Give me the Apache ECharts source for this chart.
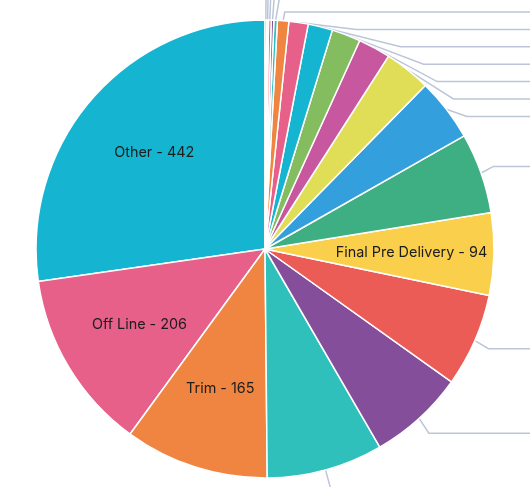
<!DOCTYPE html>
<html>
<head>
<meta charset="utf-8">
<script src="https://cdn.jsdelivr.net/npm/echarts@6/dist/echarts.min.js"></script>
<style>
html, body { margin: 0; padding: 0; width: 530px; height: 487px; overflow: hidden; background: #fff; }
/* the chart is larger than the window, the outer labels fall outside the picture */
#chart { position: absolute; left: 0; top: -300px; width: 1100px; height: 1100px; }
</style>
</head>
<body>
<div id="chart"></div>
<script>
// stations, largest first (drawn counter-clockwise from 12 o'clock)
var stages = ['Other', 'Off Line', 'Trim', 'Chassis', 'Paint', 'Body In White',
    'Final Pre Delivery', 'Final Assembly', 'Electrical', 'Water Test', 'Road Test',
    'Audit', 'Glass', 'Sealer', 'Doors', 'Engine', 'Wheel Alignment', 'Rework',
    'Underbody', 'Shipping'];
var counts = [442, 206, 165, 133, 110, 107, 94, 92, 72, 53, 37, 33, 28, 22, 13, 4, 3, 3, 2, 2];
// these get their label inside the slice
var insideStages = ['Other', 'Off Line', 'Trim', 'Final Pre Delivery'];

var palette = ['#15b5d1', '#e7608a', '#ef8540', '#2fc0bb', '#854e9b', '#ea5c55',
    '#f9cf4b', '#3eae83', '#349fdd', '#e0de56', '#c758a0', '#83bd5f'];

var myChart = echarts.init(document.getElementById('chart'));

var pieData = stages.map(function(name, i) {
    var inside = insideStages.indexOf(name) >= 0;
    var item = {
        name: name,
        value: counts[i],
        label: { show: !inside },
        labelLine: { show: !inside }
    };
    // the very thin slices get a long straight leader, their labels sit above the stack
    if (counts[i] < 10) {
        item.label.alignTo = 'edge';
        item.labelLine.length = 95;
    }
    return item;
});

var labelData = stages.map(function(name, i) {
    return {
        name: name,
        value: counts[i],
        label: { show: insideStages.indexOf(name) >= 0 }
    };
});

var option = {
    color: palette,
    animation: false,
    series: [{
        name: 'stations',
        type: 'pie',
        center: [265, 549],
        radius: [0, 229],
        startAngle: 90,
        clockwise: false,
        avoidLabelOverlap: true,
        itemStyle: { borderColor: '#fff', borderWidth: 1.5 },
        label: {
            position: 'outside',
            edgeDistance: 10,
            formatter: '{b} - {c}',
            color: '#1d1d1d',
            fontSize: 14.4,
            lineHeight: 15.4,
            fontFamily: 'Inter'
        },
        labelLine: {
            length: 20,
            length2: 260,
            lineStyle: { color: '#bcc6d8', width: 1.5 }
        },
        data: pieData
    }, {
        // transparent ring, only carries the inside labels a bit further out
        name: 'labels',
        type: 'pie',
        center: [265, 549],
        radius: [58, 229],
        startAngle: 90,
        clockwise: false,
        silent: true,
        z: 3,
        itemStyle: { color: 'transparent', borderWidth: 0 },
        label: {
            position: 'inside',
            formatter: '{b} - {c}',
            color: '#1d1d1d',
            fontSize: 14.4,
            fontFamily: 'Inter'
        },
        labelLine: { show: false },
        emphasis: { disabled: true },
        data: labelData
    }]
};

myChart.setOption(option);
</script>
</body>
</html>
